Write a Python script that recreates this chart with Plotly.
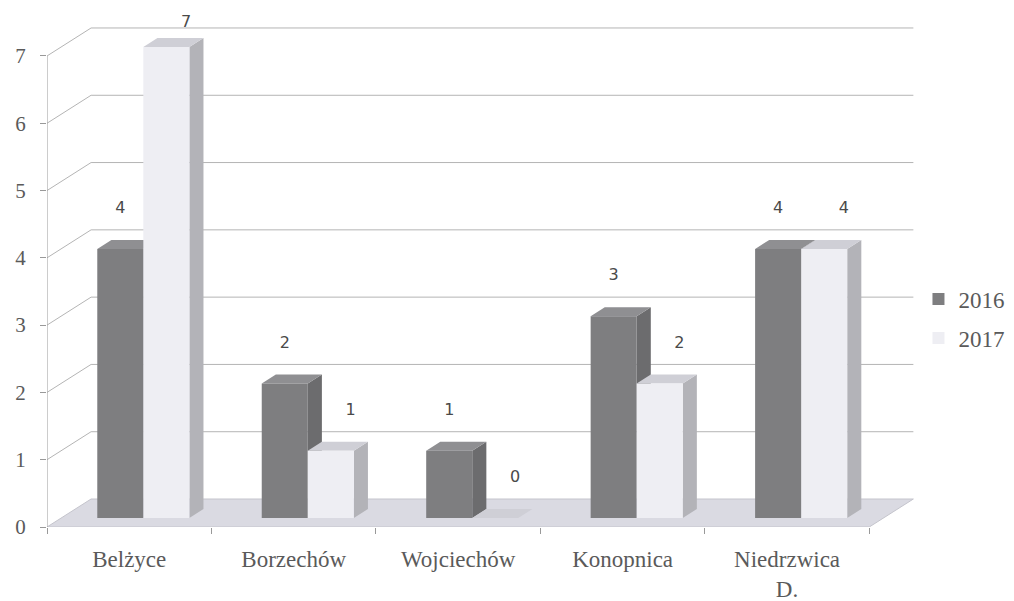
import plotly.graph_objects as go

categories = ["Belżyce", "Borzechów", "Wojciechów", "Konopnica", "Niedrzwica<br>D."]
series_names = ["2016", "2017"]
values_2016 = [4, 2, 1, 3, 4]
values_2017 = [7, 1, 0, 2, 4]
y_ticks = [0, 1, 2, 3, 4, 5, 6, 7]

# pseudo-3D geometry (in axis units)
DX = 0.268      # full depth shift along x (category units)
DY = 0.416      # full depth shift along y (value units)
F0, F1 = 0.32, 0.64  # bar depth band (fraction of full depth)
W = 0.28        # bar width (category units)
LABEL_GAP = 0.59
LABEL_CAP = 7.36
LABEL_XOFF = [0.0, 0.12]

GRID = "#b4b4b4"
TXT = "#5a5a5a"
SERIF = "Liberation Serif"

colors = {
    "2016": dict(front="#7e7e80", top="#8f8f92", side="#6c6c6e"),
    "2017": dict(front="#eeeef3", top="#cfcfd6", side="#b3b3b8"),
}

fig = go.Figure()

x0, x1 = -0.5, len(categories) - 0.5
ymax = max(y_ticks)

# floor
fig.add_trace(go.Scatter(
    x=[x0, x1, x1 + DX, x0 + DX, x0], y=[0, 0, DY, DY, 0],
    mode="lines", fill="toself", fillcolor="#dadae2",
    line=dict(color="#c4c4cc", width=1), hoverinfo="skip", showlegend=False))

# back-wall gridlines and side-wall diagonals
gx, gy = [], []
for v in y_ticks[1:]:
    gx += [x0, x0 + DX, x1 + DX, None]
    gy += [v, v + DY, v + DY, None]
fig.add_trace(go.Scatter(x=gx, y=gy, mode="lines",
                         line=dict(color=GRID, width=1),
                         hoverinfo="skip", showlegend=False))

# front value axis line
fig.add_trace(go.Scatter(x=[x0, x0], y=[0, ymax], mode="lines",
                         line=dict(color="#9a9a9a", width=1),
                         cliponaxis=False, hoverinfo="skip", showlegend=False))

ddx_f, ddy_f = F0 * DX, F0 * DY
ddx, ddy = (F1 - F0) * DX, (F1 - F0) * DY

for s, (name, vals) in enumerate(zip(series_names, [values_2016, values_2017])):
    c = colors[name]
    fx, fy, tx, ty, sx, sy = [], [], [], [], [], []
    for i, v in enumerate(vals):
        a = i - W + s * W + ddx_f
        b = i + s * W + ddx_f
        base = ddy_f
        top = v + ddy_f
        fx += [a, b, b, a, a, None]
        fy += [base, base, top, top, base, None]
        tx += [a, b, b + ddx, a + ddx, a, None]
        ty += [top, top, top + ddy, top + ddy, top, None]
        sx += [b, b + ddx, b + ddx, b, b, None]
        sy += [base, base + ddy, top + ddy, top, base, None]
    fig.add_trace(go.Scatter(x=sx, y=sy, mode="lines", fill="toself",
                             fillcolor=c["side"], line=dict(width=0, color=c["side"]),
                             hoverinfo="skip", showlegend=False))
    fig.add_trace(go.Scatter(x=tx, y=ty, mode="lines", fill="toself",
                             fillcolor=c["top"], line=dict(width=0, color=c["top"]),
                             hoverinfo="skip", showlegend=False))
    fig.add_trace(go.Scatter(x=fx, y=fy, mode="lines", fill="toself",
                             fillcolor=c["front"], line=dict(width=0, color=c["front"]),
                             hoverinfo="skip", showlegend=False))
    # legend entry
    fig.add_trace(go.Scatter(x=[None], y=[None], mode="markers", name=name,
                             legendgroup=name,
                             marker=dict(symbol="square", size=10, color=c["front"],
                                         line=dict(width=0))))
    # value labels
    lx = [i - W / 2 + s * W + ddx_f + LABEL_XOFF[s] for i in range(len(vals))]
    ly = [min(v + LABEL_GAP, LABEL_CAP) + ddy_f for v in vals]
    fig.add_trace(go.Scatter(x=lx, y=ly, mode="text", text=[str(v) for v in vals],
                             textfont=dict(family="DejaVu Sans", size=16, color="#4a4a4a"),
                             cliponaxis=False, hoverinfo="skip", showlegend=False))

fig.update_layout(
    width=1006, height=593,
    margin=dict(l=39, r=99, t=2, b=74, autoexpand=False),
    paper_bgcolor="white", plot_bgcolor="white",
    showlegend=True,
    legend=dict(x=1.004, xanchor="left", y=0.403, yanchor="middle",
                font=dict(family=SERIF, size=23, color=TXT),
                tracegroupgap=6, itemsizing="constant",
                bgcolor="rgba(0,0,0,0)"),
    xaxis=dict(range=[x0, x1 + DX + 0.01], tickvals=list(range(len(categories))),
               ticktext=categories, ticks="", showgrid=False, zeroline=False,
               showline=False, ticklabelstandoff=16, automargin=False,
               tickfont=dict(family=SERIF, size=23, color=TXT),
               minor=dict(tickvals=[k - 0.5 for k in range(len(categories) + 1)],
                          ticks="outside", ticklen=6, tickcolor="#999999",
                          showgrid=False)),
    yaxis=dict(range=[0, (527 - 10) / 67.29], tickvals=y_ticks, ticks="outside",
               ticklen=6, tickcolor="#999999", showgrid=False, zeroline=False,
               showline=False, ticklabelstandoff=10, automargin=False,
               tickfont=dict(family=SERIF, size=21, color=TXT)),
)

fig.write_html("out.html")
